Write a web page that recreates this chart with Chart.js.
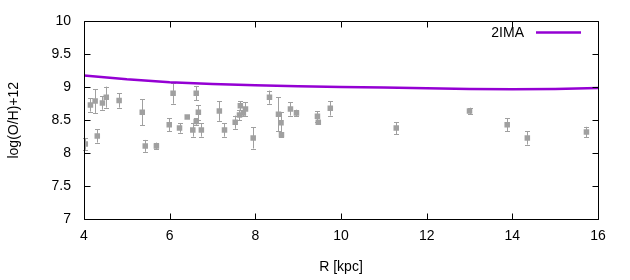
<!DOCTYPE html>
<html>
<head>
<meta charset="utf-8">
<script src="https://cdn.jsdelivr.net/npm/chart.js@4"></script>
<style>
  html, body { margin: 0; padding: 0; background: #fff; }
  #wrap { width: 630px; height: 280px; }
</style>
</head>
<body>
<div id="wrap"><canvas id="chart" width="630" height="280"></canvas></div>
<script>
// model curve (2IMA)
const modelR = [4, 5, 6, 7, 8, 9, 10, 11, 12, 13, 14, 15, 16];
const modelOH = [9.18, 9.12, 9.075, 9.05, 9.03, 9.015, 9.005, 8.995, 8.985, 8.975, 8.97, 8.975, 8.99];

// observed abundances with error bars
const obsR = [4.03, 4.15, 4.26, 4.31, 4.43, 4.52, 4.82, 5.36, 5.43, 5.69,
  5.99, 6.08, 6.23, 6.41, 6.54, 6.62, 6.62, 6.67, 6.74, 7.16,
  7.28, 7.53, 7.63, 7.65, 7.72, 7.77, 7.95, 8.33, 8.54, 8.60,
  8.61, 8.82, 8.96, 9.45, 9.47, 9.75, 11.29, 13.00, 13.88, 14.35, 15.73];
const obsOH = [8.14, 8.73, 8.79, 8.26, 8.76, 8.85, 8.80, 8.62, 8.11, 8.11,
  8.43, 8.91, 8.38, 8.55, 8.35, 8.91, 8.48, 8.62, 8.35, 8.64,
  8.35, 8.47, 8.58, 8.72, 8.61, 8.67, 8.23, 8.85, 8.59, 8.46,
  8.28, 8.67, 8.61, 8.56, 8.47, 8.68, 8.38, 8.64, 8.43, 8.23, 8.32];
const obsErr = [0.09, 0.10, 0.18, 0.10, 0.10, 0.16, 0.11, 0.20, 0.09, 0.05,
  0.10, 0.16, 0.07, 0.00, 0.10, 0.11, 0.05, 0.11, 0.10, 0.15,
  0.10, 0.10, 0.08, 0.07, 0.05, 0.10, 0.16, 0.10, 0.26, 0.16,
  0.03, 0.10, 0.05, 0.08, 0.03, 0.11, 0.09, 0.05, 0.10, 0.10, 0.08];

const xTicks = [4, 6, 8, 10, 12, 14, 16];
const yTicks = [7, 7.5, 8, 8.5, 9, 9.5, 10];

const FONT = "'Liberation Sans', Arial, sans-serif";
const GRAY = "#a0a0a0";
const PURPLE = "#9400d3";

// error bars, gnuplot style box + inward ticks, legend
const gnuplotLook = {
  id: "gnuplotLook",
  beforeDatasetsDraw(chart) {
    const ctx = chart.ctx;
    const xs = chart.scales.x, ys = chart.scales.y;
    ctx.save();
    ctx.strokeStyle = GRAY;
    ctx.lineWidth = 1;
    obsR.forEach((r, i) => {
      if (!obsErr[i]) return;
      const px = Math.round(xs.getPixelForValue(r)) + 0.5;
      const top = ys.getPixelForValue(obsOH[i] + obsErr[i]);
      const bot = ys.getPixelForValue(obsOH[i] - obsErr[i]);
      ctx.beginPath();
      ctx.moveTo(px, top); ctx.lineTo(px, bot);
      ctx.moveTo(px - 2.5, Math.round(top) + 0.5); ctx.lineTo(px + 2.5, Math.round(top) + 0.5);
      ctx.moveTo(px - 2.5, Math.round(bot) + 0.5); ctx.lineTo(px + 2.5, Math.round(bot) + 0.5);
      ctx.stroke();
    });
    ctx.restore();
  },
  afterDraw(chart) {
    const ctx = chart.ctx;
    const a = chart.chartArea;
    const xs = chart.scales.x, ys = chart.scales.y;
    const L = Math.round(a.left) + 0.5, R = Math.round(a.right) + 0.5;
    const T = Math.round(a.top) + 0.5, B = Math.round(a.bottom) + 0.5;
    ctx.save();
    ctx.strokeStyle = "#000";
    ctx.lineWidth = 1;
    ctx.beginPath();
    ctx.rect(L, T, R - L, B - T);
    xTicks.forEach(v => {
      const px = Math.round(xs.getPixelForValue(v)) + 0.5;
      ctx.moveTo(px, B); ctx.lineTo(px, B - 6);
      ctx.moveTo(px, T); ctx.lineTo(px, T + 6);
    });
    yTicks.forEach(v => {
      const py = Math.round(ys.getPixelForValue(v)) + 0.5;
      ctx.moveTo(L, py); ctx.lineTo(L + 6, py);
      ctx.moveTo(R, py); ctx.lineTo(R - 6, py);
    });
    ctx.stroke();

    // legend
    ctx.font = "14px " + FONT;
    ctx.fillStyle = "#000";
    ctx.textAlign = "right";
    ctx.textBaseline = "middle";
    ctx.fillText(chart.data.datasets[1].label, 524, 33);
    ctx.strokeStyle = PURPLE;
    ctx.lineWidth = 2.5;
    ctx.beginPath();
    ctx.moveTo(536, 32.5); ctx.lineTo(581, 32.5);
    ctx.stroke();
    ctx.restore();
  }
};

const ctx = document.getElementById("chart").getContext("2d");
new Chart(ctx, {
  type: "scatter",
  data: {
    datasets: [
      {
        label: "data",
        data: obsR.map((r, i) => ({ x: r, y: obsOH[i] })),
        pointStyle: "rect",
        pointRadius: 3.9,
        backgroundColor: GRAY,
        borderColor: GRAY,
        borderWidth: 0,
      },
      {
        label: "2IMA",
        data: modelR.map((r, i) => ({ x: r, y: modelOH[i] })),
        showLine: true,
        borderColor: PURPLE,
        borderWidth: 2.5,
        pointRadius: 0,
        tension: 0,
      },
    ],
  },
  options: {
    responsive: false,
    animation: false,
    layout: { padding: { left: 2, right: 32, top: 20, bottom: 0 } },
    plugins: { legend: { display: false }, tooltip: { enabled: false } },
    scales: {
      x: {
        type: "linear",
        min: 4, max: 16,
        afterBuildTicks: s => { s.ticks = xTicks.map(v => ({ value: v })); },
        afterFit: s => { s.height = 61; },
        grid: { display: false, drawTicks: false },
        border: { display: false },
        ticks: { color: "#000", font: { family: FONT, size: 14 }, padding: 9, callback: v => String(v) },
        title: { display: true, text: "R [kpc]", color: "#000", font: { family: FONT, size: 14 }, padding: { top: 8 } },
      },
      y: {
        type: "linear",
        min: 7, max: 10,
        afterBuildTicks: s => { s.ticks = yTicks.map(v => ({ value: v })); },
        afterFit: s => { s.width = 82; },
        grid: { display: false, drawTicks: false },
        border: { display: false },
        ticks: { color: "#000", font: { family: FONT, size: 14 }, padding: 13, callback: v => String(v) },
        title: { display: true, text: "log(O/H)+12", color: "#000", font: { family: FONT, size: 14 }, padding: { top: 4, bottom: 0 } },
      },
    },
  },
  plugins: [gnuplotLook],
});
</script>
</body>
</html>
